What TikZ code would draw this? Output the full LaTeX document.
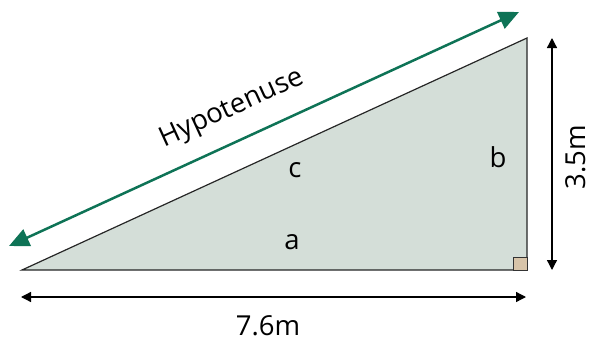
\documentclass[tikz,border=0pt]{standalone}
\usepackage{fontspec}
\setmainfont{Open Sans}
\usetikzlibrary{arrows.meta}
\definecolor{trifill}{HTML}{D4DED8}
\definecolor{hypgreen}{HTML}{0E7356}
\definecolor{boxfill}{HTML}{D8C4A9}
\begin{document}
\begin{tikzpicture}[x=1pt,y=-1pt,
  lbl/.style={font=\fontsize{27.5}{30}\selectfont, inner sep=0pt},
  dimarrow/.style={line width=1.3pt, {Triangle[length=10pt,width=10pt]}-{Triangle[length=10pt,width=10pt]}},
  hyparrow/.style={hypgreen, line width=2.5pt, {Triangle[length=20pt,width=18pt]}-{Triangle[length=20pt,width=18pt]}}]
\useasboundingbox (0,0) rectangle (590,343);
\coordinate (A) at (22,270);
\coordinate (C) at (527,270);
\coordinate (B) at (527,38);
\filldraw[fill=trifill, draw=black!85, line width=1.2pt, line join=miter] (A) -- (C) -- (B) -- cycle;
\filldraw[fill=boxfill, draw=black!80, line width=1pt] (513,257) rectangle (C);
\coordinate (hl) at (9,246);
\coordinate (hr) at (519,12);
\draw[hyparrow] (hl) -- (hr);
\coordinate (vt) at (552,38);
\coordinate (vb) at (552,270);
\draw[dimarrow] (vt) -- (vb);
\coordinate (hzl) at (21,297);
\coordinate (hzr) at (526,297);
\draw[dimarrow] (hzl) -- (hzr);
\node[lbl, rotate=24.6] (hyp) at (232,109) {Hypotenuse};
\node[lbl] (c) at (295,170) {c};
\node[lbl] (b) at (498,157) {b};
\node[lbl] (a) at (292,242) {a};
\node[lbl, rotate=90] (h) at (576,157) {3.5m};
\node[lbl] (w) at (268,326) {7.6m};
\end{tikzpicture}
\end{document}
